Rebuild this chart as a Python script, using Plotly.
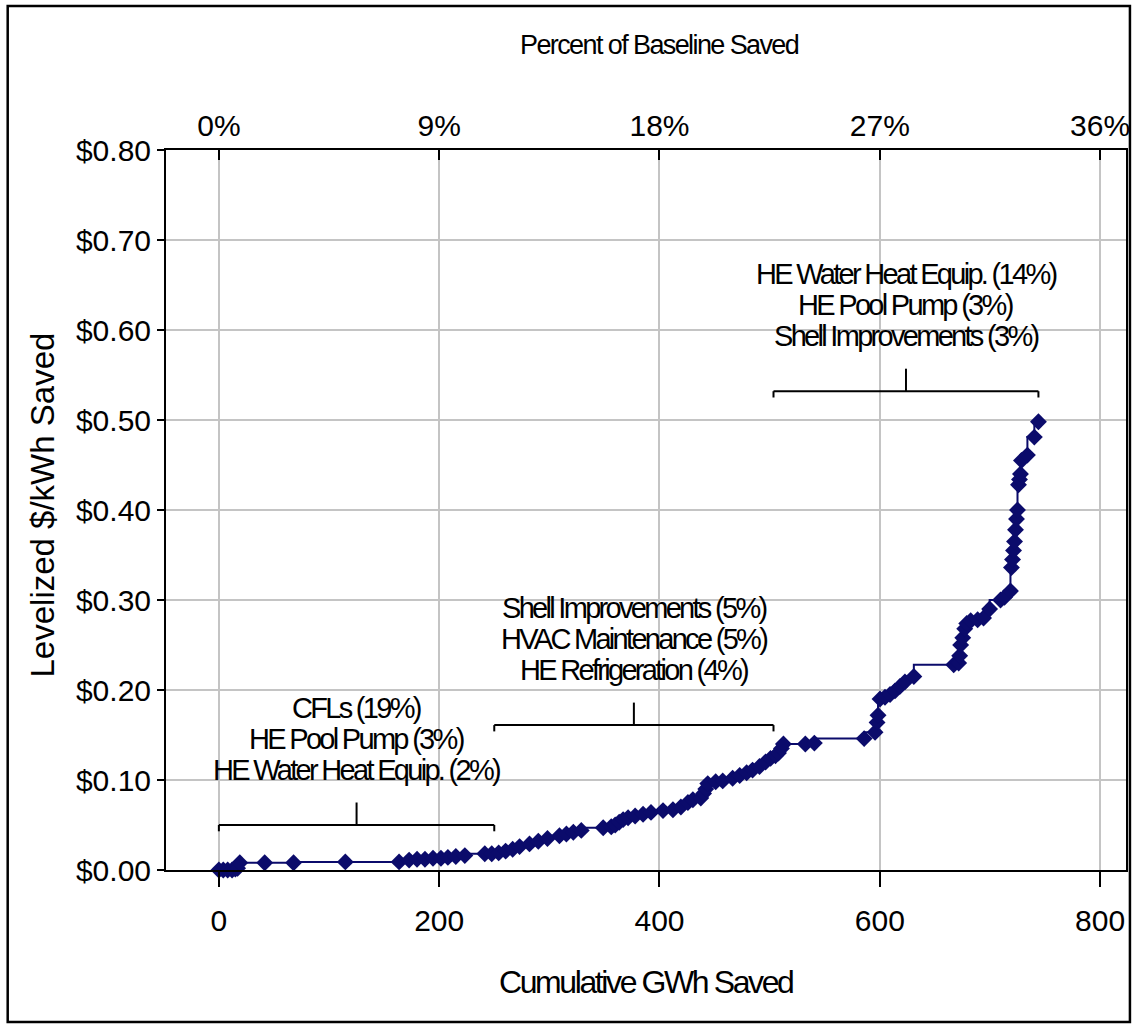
import plotly.graph_objects as go

# ---- data ----
gwh_saved = [0, 4, 8, 12, 15, 17, 19, 41.6, 67.8, 114.8, 163.6, 172.7, 179.9, 187.1, 194.4,
             201.6, 207.9, 215.1, 223.3, 241.4, 247.7, 254, 260.3, 266.7, 273, 282, 290,
             298.3, 309.2, 315.5, 321.8, 329, 348.9, 356.2, 359.8, 363.4, 367, 371.5, 377.9,
             385.1, 392.3, 403.2, 412.2, 419.4, 425.8, 430.3, 437.5, 440, 442, 443.8, 451,
             457.4, 466.4, 472.8, 479.1, 484.5, 490.8, 496.3, 500.8, 505.3, 508, 510.7, 512.5,
             532.4, 540.6, 585.8, 595.7, 597.5, 598.4, 600.2, 604.7, 609.3, 613.8, 618.3,
             622.8, 630.9, 667.1, 671.6, 672.5, 673.4, 675.3, 677.1, 678.9, 682.5, 688.8,
             694.2, 699.7, 709.6, 713.2, 718.6, 719.5, 720.5, 721.4, 722.3, 723.2, 724.1,
             725, 725.9, 726.8, 727.7, 728.6, 734, 740.3, 744]
cost_per_kwh = [0.000, 0.000, 0.000, 0.000, 0.001, 0.002, 0.008, 0.008, 0.008, 0.009, 0.009,
                0.011, 0.012, 0.012, 0.013, 0.013, 0.014, 0.015, 0.016, 0.018, 0.018, 0.019,
                0.021, 0.023, 0.026, 0.029, 0.032, 0.035, 0.038, 0.040, 0.042, 0.044, 0.047,
                0.048, 0.050, 0.053, 0.056, 0.058, 0.060, 0.062, 0.064, 0.066, 0.067, 0.070,
                0.075, 0.078, 0.080, 0.085, 0.090, 0.096, 0.098, 0.099, 0.102, 0.105, 0.108,
                0.111, 0.115, 0.120, 0.124, 0.127, 0.130, 0.135, 0.140, 0.140, 0.141, 0.146,
                0.153, 0.164, 0.172, 0.190, 0.192, 0.195, 0.199, 0.204, 0.209, 0.215, 0.228,
                0.230, 0.238, 0.250, 0.258, 0.268, 0.274, 0.277, 0.278, 0.280, 0.290, 0.300,
                0.303, 0.310, 0.336, 0.345, 0.355, 0.365, 0.378, 0.390, 0.400, 0.428, 0.434,
                0.440, 0.455, 0.461, 0.481, 0.498]

x_ticks = [0, 200, 400, 600, 800]
y_ticks = [0.0, 0.1, 0.2, 0.3, 0.4, 0.5, 0.6, 0.7, 0.8]
pct_ticks = [0, 9, 18, 27, 36]
baseline_gwh = 2222.2  # 9% of baseline = 200 GWh

# measure groups: (start GWh, end GWh, bracket level, label lines)
group_start = [0, 250, 503.5]
group_end = [250, 503.5, 744]
group_level = [0.050, 0.161, 0.532]
group_labels = [
    ["CFLs (19%)", "HE Pool Pump (3%)", "HE Water Heat Equip. (2%)"],
    ["Shell Improvements (5%)", "HVAC Maintenance (5%)", "HE Refrigeration (4%)"],
    ["HE Water Heat Equip. (14%)", "HE Pool Pump (3%)", "Shell Improvements (3%)"],
]

# ---- style ----
NAVY = "#0b0b6b"
GRID = "#c4c4c4"
FONT = "Liberation Sans, Arial, sans-serif"


def tight(text, spacing):
    return f'<span style="letter-spacing:{spacing}px">{text}</span>'


x_range = [-48, 823.5]
fig = go.Figure()
fig.add_trace(go.Scatter(
    x=gwh_saved, y=cost_per_kwh, mode="lines+markers",
    line=dict(color=NAVY, width=2, shape="vh"),
    marker=dict(symbol="diamond", size=13, color=NAVY),
    cliponaxis=False, showlegend=False, hoverinfo="x+y"))
fig.add_trace(go.Scatter(x=[None], y=[None], xaxis="x2", showlegend=False, hoverinfo="skip"))

shapes = []
annotations = []
tick_up = 0.025
tick_down = 0.007
line_gap = 0.0345
for s, e, lvl, labels in zip(group_start, group_end, group_level, group_labels):
    mid = (s + e) / 2
    style = dict(color="black", width=2)
    shapes.append(dict(type="line", xref="x", yref="y", x0=s, x1=e, y0=lvl, y1=lvl, line=style))
    shapes.append(dict(type="line", xref="x", yref="y", x0=s, x1=s, y0=lvl, y1=lvl - tick_down, line=style))
    shapes.append(dict(type="line", xref="x", yref="y", x0=e, x1=e, y0=lvl, y1=lvl - tick_down, line=style))
    shapes.append(dict(type="line", xref="x", yref="y", x0=mid, x1=mid, y0=lvl, y1=lvl + tick_up, line=style))
    base = lvl + 0.061
    for i, lab in enumerate(reversed(labels)):
        annotations.append(dict(x=mid, y=base + i * line_gap, xref="x", yref="y",
                                text=tight(lab, -2.7),
                                showarrow=False, font=dict(family=FONT, size=29, color="black"),
                                xanchor="center", yanchor="middle"))

# outer frame
shapes.append(dict(type="rect", xref="paper", yref="paper", x0=-0.1649, x1=1.0041,
                   y0=-0.2111, y1=1.2, line=dict(color="black", width=2.5), layer="below"))

annotations += [
    dict(text=tight("Cumulative GWh Saved", -2.4), xref="paper", yref="paper", x=0.5, y=-0.156,
         showarrow=False, font=dict(family=FONT, size=32, color="black"),
         xanchor="center", yanchor="middle"),
    dict(text=tight("Percent of Baseline Saved", -1.6), xref="paper", yref="paper", x=0.5145, y=1.146,
         showarrow=False, font=dict(family=FONT, size=27, color="black"),
         xanchor="center", yanchor="middle"),
    dict(text="Levelized $/kWh Saved", xref="paper", yref="paper", x=-0.1286, y=0.507,
         showarrow=False, textangle=-90, font=dict(family=FONT, size=33, color="black"),
         xanchor="center", yanchor="middle"),
]

fig.update_layout(
    width=1137, height=1025,
    margin=dict(l=166, r=7, t=150, b=155),
    paper_bgcolor="white", plot_bgcolor="white",
    shapes=shapes, annotations=annotations,
    xaxis=dict(range=x_range, tickvals=x_ticks, showgrid=True, gridcolor=GRID, gridwidth=2,
               zeroline=False, showline=True, linecolor="black", linewidth=2, mirror=True,
               ticks="outside", ticklen=15, tickwidth=2, tickcolor="black",
               ticklabelstandoff=8,
               tickfont=dict(family=FONT, size=30, color="black")),
    xaxis2=dict(range=[x_range[0] * 100 / baseline_gwh, x_range[1] * 100 / baseline_gwh],
                tickmode="array", tickvals=pct_ticks, ticktext=[f"{p}%" for p in pct_ticks],
                overlaying="x", side="top", anchor="y",
                showgrid=False, zeroline=False, showline=True, linecolor="black", linewidth=2,
                ticks="inside", ticklen=10, tickwidth=2, tickcolor="black",
                tickfont=dict(family=FONT, size=30, color="black")),
    yaxis=dict(range=[0, 0.8], tickvals=y_ticks, tickformat="$.2f", showgrid=True,
               gridcolor=GRID, gridwidth=2, zeroline=False, showline=True, linecolor="black",
               linewidth=2, mirror=True, ticks="outside", ticklen=7, tickwidth=2,
               tickcolor="black", tickfont=dict(family=FONT, size=30, color="black")),
)

fig.write_html("out.html", config={"displayModeBar": False},
               post_script="document.body.style.margin='0';document.body.style.overflow='hidden';")
